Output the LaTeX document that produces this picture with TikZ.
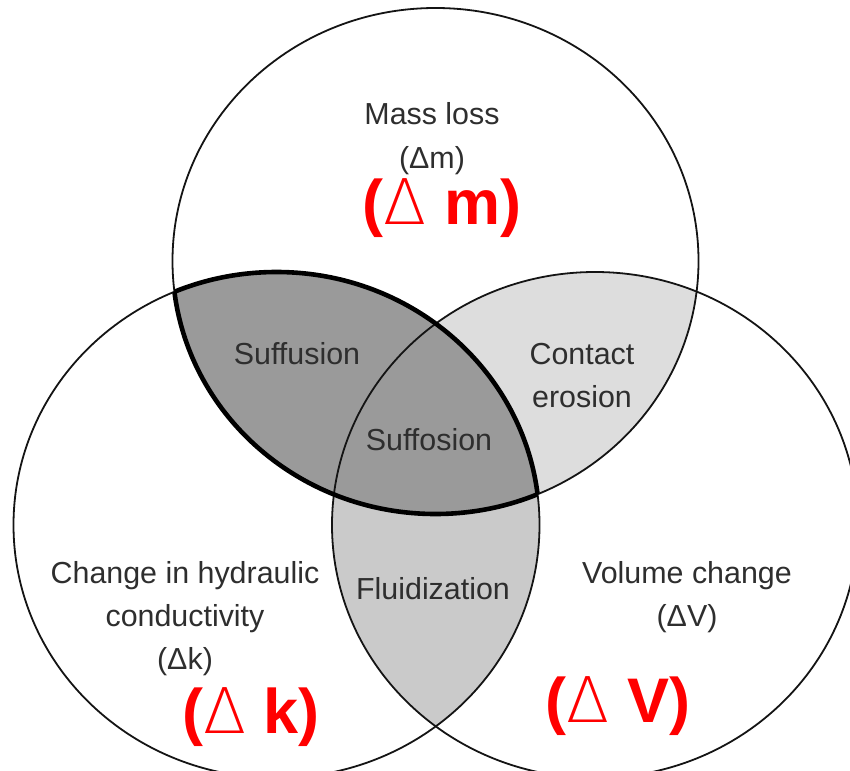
\documentclass[tikz,border=0pt]{standalone}
\usepackage{fontspec}
\setmainfont{Liberation Sans}
\newfontfamily\thinglyph{DejaVu Sans ExtraLight}[BoldFont=*]
\begin{document}
\begin{tikzpicture}[x=1pt,y=-1pt,
  ring/.style={draw=black!92,line width=1.8pt},
  lensedge/.style={draw=black,line width=4.6pt},
  lbl/.style={anchor=base,inner sep=0pt,text=black!82,font=\fontsize{30.4}{36}\selectfont},
  bigtag/.style={anchor=base,inner sep=0pt,text=red,font=\fontsize{63}{70}\selectfont\bfseries},
  ell/.style={x radius=263pt,y radius=253pt}]
\definecolor{darkzone}{HTML}{9A9A9A}
\definecolor{midzone}{HTML}{CACACA}
\definecolor{lightzone}{HTML}{DDDDDD}
\newcommand{\thinDelta}{{\thinglyph\mdseries Δ}}
\useasboundingbox (0,0) rectangle (850,770);
\coordinate (T) at (435.5,261);
\coordinate (L) at (276.5,525);
\coordinate (R) at (595,525);
% overlap fills
\begin{scope}
  \clip (T) ellipse [ell];
  \fill[lightzone] (R) ellipse [ell];
\end{scope}
\begin{scope}
  \clip (L) ellipse [ell];
  \fill[midzone] (R) ellipse [ell];
\end{scope}
\begin{scope}
  \clip (T) ellipse [ell];
  \fill[darkzone] (L) ellipse [ell];
\end{scope}
% outlines
\draw[ring] (T) ellipse [ell];
\draw[ring] (L) ellipse [ell];
\draw[ring] (R) ellipse [ell];
% heavy outline of the mass-loss / conductivity overlap
\begin{scope}
  \clip (T) ellipse [ell];
  \draw[lensedge] (L) ellipse [ell];
\end{scope}
\begin{scope}
  \clip (L) ellipse [ell];
  \draw[lensedge] (T) ellipse [ell];
\end{scope}
% labels
\node[lbl] (mass) at (432,125) {Mass loss};
\node[lbl] (massd) at (432,168) {(Δm)};
\node[bigtag] (masst) at (442,224) {(\thinDelta\ m)};
\node[lbl] (suffu) at (297,364) {Suffusion};
\node[lbl] (cont) at (582,364) {Contact};
\node[lbl] (eros) at (582,407) {erosion};
\node[lbl] (suffo) at (429,450) {Suffosion};
\node[lbl] (fluid) at (433,599) {Fluidization};
\node[lbl] (hyd1) at (185,583) {Change in hydraulic};
\node[lbl] (hyd2) at (185,626) {conductivity};
\node[lbl] (hyd3) at (185,669) {(Δk)};
\node[bigtag] (hydt) at (251,733) {(\thinDelta\ k)};
\node[lbl] (vol1) at (687,583) {Volume change};
\node[lbl] (vol2) at (687,626) {(ΔV)};
\node[bigtag] (volt) at (618,722) {(\thinDelta\ V)};
\end{tikzpicture}
\end{document}
